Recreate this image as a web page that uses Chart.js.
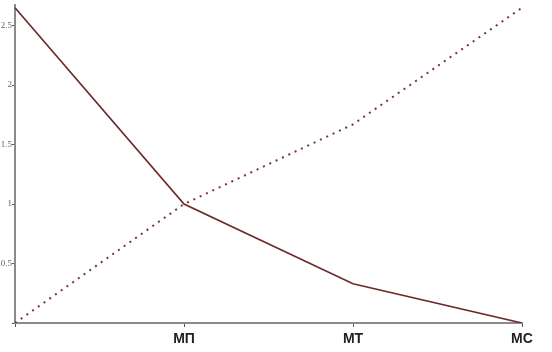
<!DOCTYPE html>
<html>
<head>
<meta charset="utf-8">
<script src="https://cdn.jsdelivr.net/npm/chart.js@4"></script>
<style>
  html, body { margin: 0; padding: 0; background: #fff; }
  #wrap { width: 552px; height: 352px; }
</style>
</head>
<body>
<div id="wrap"><canvas id="myChart"></canvas></div>
<script>
// categories on the x axis (origin has no label)
const categories = ['', 'МП', 'МТ', 'МС'];
// solid falling line
const solidValues = [2.65, 1, 0.33, 0];
// dotted rising line
const dottedValues = [0, 1, 1.67, 2.65];
const yTicks = [0, 0.5, 1, 1.5, 2, 2.5];

const lineColor = '#6e2b2b';
const axisColor = '#8a8a8a';

const data = {
    labels: categories,
    datasets: [
        {
            label: 'solid',
            data: solidValues,
            borderColor: lineColor,
            borderWidth: 1.7,
            pointRadius: 0,
            tension: 0,
            fill: false
        },
        {
            label: 'dotted',
            data: dottedValues,
            borderColor: '#7a3434',
            borderWidth: 2,
            borderDash: [2, 5],
            pointRadius: 0,
            tension: 0,
            fill: false
        }
    ]
};

const config = {
    type: 'line',
    data: data,
    options: {
        responsive: true,
        maintainAspectRatio: false,
        animation: false,
        layout: { padding: { top: 2, right: 30, left: 0, bottom: 0 } },
        plugins: {
            legend: { display: false },
            tooltip: { enabled: false }
        },
        scales: {
            x: {
                offset: false,
                border: { color: axisColor, width: 2 },
                grid: { drawOnChartArea: false, tickLength: 4, color: '#555' },
                ticks: {
                    color: '#222',
                    font: { family: 'Liberation Sans, Arial, sans-serif', size: 14, weight: 'bold' },
                    padding: 4,
                    maxRotation: 0,
                    autoSkip: false
                },
                afterFit: function(scale) { scale.height = 29; }
            },
            y: {
                min: 0,
                max: 2.67,
                border: { color: axisColor, width: 2 },
                grid: { drawOnChartArea: false, tickLength: 3, color: '#555' },
                afterBuildTicks: function(scale) {
                    scale.ticks = yTicks.map(v => ({ value: v }));
                },
                ticks: {
                    color: '#666',
                    font: { family: 'Liberation Serif, Times New Roman, serif', size: 9 },
                    padding: 0,
                    // the origin tick is not labelled in the reference
                    callback: function(v) { return v === 0 ? '' : String(v); }
                },
                afterFit: function(scale) { scale.width = 15; }
            }
        }
    }
};

const myChart = new Chart(document.getElementById('myChart'), config);
</script>
</body>
</html>
